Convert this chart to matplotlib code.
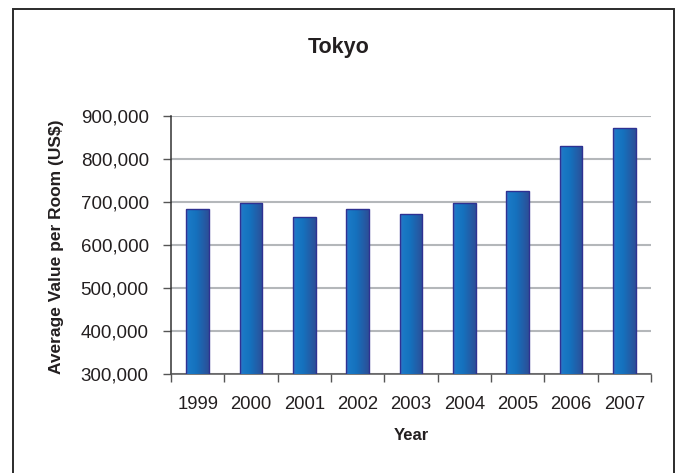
import numpy as np
import matplotlib
matplotlib.use("Agg")
import matplotlib.pyplot as plt
from matplotlib.patches import Rectangle
from matplotlib.colors import LinearSegmentedColormap
from matplotlib.ticker import FuncFormatter, FixedLocator

plt.rcParams['font.family'] = ['Liberation Sans', 'DejaVu Sans']

years = ["1999", "2000", "2001", "2002", "2003", "2004", "2005", "2006", "2007"]
values = [684000, 697000, 665000, 684000, 671000, 697000, 726000, 830000, 871000]
y_ticks = [300000, 400000, 500000, 600000, 700000, 800000, 900000]

W, H = 678, 473
fig = plt.figure(figsize=(W / 100, H / 100), dpi=100)
fig.patch.set_facecolor("white")

# outer frame around the chart
fig.patches.append(Rectangle((13 / W, -0.05), (674 - 13) / W, 1.05 - 9 / H,
                             transform=fig.transFigure, fill=False,
                             edgecolor="#2b2b2b", linewidth=1.4, zorder=0))

ax = fig.add_axes([171 / W, 1 - 374 / H, (651 - 171) / W, (374 - 116) / H])
x = np.arange(len(years))
bars = ax.bar(x, values, width=0.42, bottom=0, color="none",
              edgecolor="#2e3192", linewidth=1.0, zorder=4)

# horizontal gradient fill for each bar
cmap = LinearSegmentedColormap.from_list(
    "barfill", [(0.0, "#3f6ec2"), (0.12, "#1a79c6"), (0.45, "#1571bd"), (1.0, "#2c4f97")])
grad = np.linspace(0, 1, 64).reshape(1, -1)
for b in bars:
    x0, w, h = b.get_x(), b.get_width(), b.get_height()
    im = ax.imshow(grad, extent=(x0, x0 + w, 300000, h), aspect="auto",
                   cmap=cmap, zorder=3, interpolation="bicubic")
    im.set_clip_path(b)

ax.set_xlim(-0.5, len(years) - 0.5)
ax.set_ylim(300000, 900000)
ax.set_yticks(y_ticks)
ax.yaxis.set_major_formatter(FuncFormatter(lambda v, p: f"{int(v):,}"))
ax.grid(axis="y", color="#b4b7ba", linewidth=1.5, zorder=1)
ax.set_axisbelow(True)

ax.set_xticks(x)
ax.set_xticklabels(years)
ax.xaxis.set_minor_locator(FixedLocator(np.arange(-0.5, len(years), 1.0)))
ax.tick_params(axis="x", which="major", length=0, pad=16, labelsize=13.3, labelcolor="#231f20")
ax.tick_params(axis="x", which="minor", length=6, width=1, color="#555555", direction="out")
ax.tick_params(axis="y", length=6, width=1, color="#555555", direction="out",
               labelsize=13.5, labelcolor="#231f20", pad=10)

for s in ("top", "right"):
    ax.spines[s].set_visible(False)
ax.spines["left"].set_color("#333333")
ax.spines["bottom"].set_color("#555555")
ax.spines["left"].set_linewidth(1.1)
ax.spines["bottom"].set_linewidth(1.1)

# axis titles and chart title
fig.text(411 / W, 1 - 435 / H, "Year", ha="center", va="center",
         fontsize=12, fontweight="bold", color="#231f20")
fig.text(57 / W, 1 - 247 / H, "Average Value per Room (US$)", ha="center", va="center",
         rotation=90, fontsize=12.5, fontweight="bold", color="#231f20")
fig.text(0.5, 1 - 47 / H, "Tokyo", ha="center", va="center",
         fontsize=15.5, fontweight="bold", color="#231f20")

fig.savefig("out.png", dpi=100, facecolor="white")
